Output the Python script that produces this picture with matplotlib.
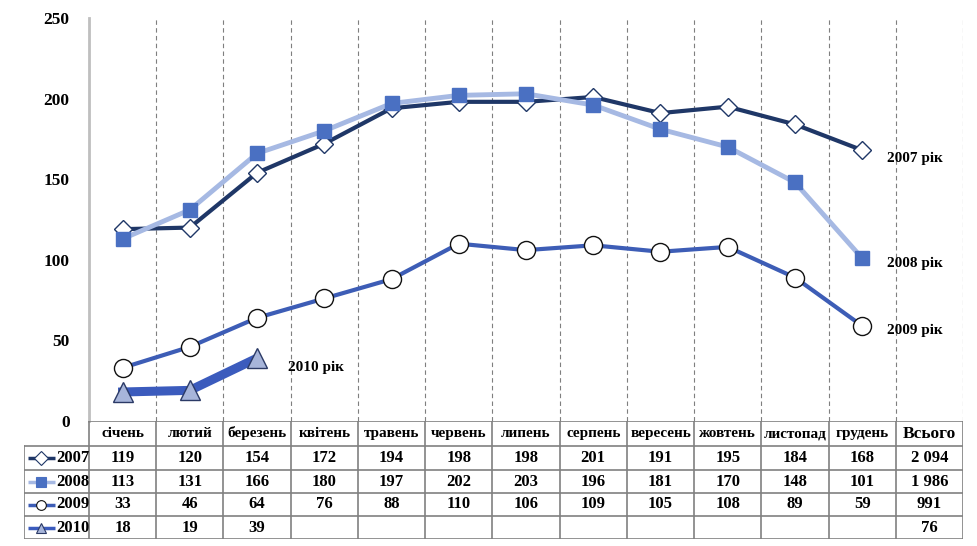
import matplotlib
matplotlib.use('Agg')
import matplotlib.pyplot as plt
import numpy as np

# данi
months = ['січень', 'лютий', 'березень', 'квітень', 'травень', 'червень',
          'липень', 'серпень', 'вересень', 'жовтень', 'листопад', 'грудень']
total_label = 'Всього'
years = ['2007', '2008', '2009', '2010']
v2007 = [119, 120, 154, 172, 194, 198, 198, 201, 191, 195, 184, 168]
v2008 = [113, 131, 166, 180, 197, 202, 203, 196, 181, 170, 148, 101]
v2009 = [33, 46, 64, 76, 88, 110, 106, 109, 105, 108, 89, 59]
v2010 = [18, 19, 39]
totals = ['2 094', '1 986', '991', '76']

plt.rcParams['font.family'] = ['Liberation Serif', 'DejaVu Serif']
plt.rcParams['font.weight'] = 'bold'

W, H = 977, 546
fig = plt.figure(figsize=(W / 100, H / 100), dpi=100)

x0, x1 = 89, 963      # plot area (px)
ytop, ybot = 18, 421
ax = fig.add_axes([x0 / W, 1 - ybot / H, (x1 - x0) / W, (ybot - ytop) / H])

styles = [
    dict(color='#1f3767', lw=3, marker='D', ms=9, mfc='white', mec='#1f3767', mew=1),
    dict(color='#a6b9e3', lw=3.5, marker='s', ms=10, mfc='#4a70c2', mec='#4a70c2'),
    dict(color='#3d5db6', lw=3, marker='o', ms=13, mfc='white', mec='#111111', mew=1),
    dict(color='#3b5bbd', lw=6.5, marker='^', ms=15, mfc='#a7b5da', mec='#2b3a66', mew=1),
]
series = [v2007, v2008, v2009, v2010]

for vals, st in zip(series, styles):
    ax.plot(np.arange(len(vals)), vals, zorder=3, **st)

ax.set_xlim(-0.5, 12.5)
ax.set_ylim(0, 250)
ax.set_yticks([0, 50, 100, 150, 200, 250])
ax.set_xticks([])
ax.tick_params(axis='y', length=0, pad=14, labelsize=12.5)
for lab in ax.get_yticklabels():
    lab.set_fontweight('bold')
for s in ['top', 'right', 'bottom']:
    ax.spines[s].set_visible(False)
ax.spines['left'].set_color('#bfbfbf')
ax.spines['left'].set_linewidth(2)
for xv in np.arange(0.5, 13, 1):
    ax.axvline(xv, color='#7f7f7f', lw=0.8, ls=(0, (4, 3)), zorder=1)

# підписи серій
ax.text(11.37, 163, '2007 рік', fontsize=11, fontweight='bold', va='center')
ax.text(11.37, 98, '2008 рік', fontsize=11, fontweight='bold', va='center')
ax.text(11.37, 56, '2009 рік', fontsize=11, fontweight='bold', va='center')
ax.text(2.46, 33.5, '2010 рік', fontsize=11, fontweight='bold', va='center')

# таблиця даних
colw = (x1 - x0) / 13
tl = 24
tb = 539
tax = fig.add_axes([tl / W, 1 - tb / H, (x1 - tl) / W, (tb - ybot) / H])
tax.set_xlim(-0.5 - (x0 - tl) / colw, 12.5)
row_h = [25, 24, 23, 23, 23]
edges = np.concatenate([[0], np.cumsum(row_h)])
tax.set_ylim(edges[-1], 0)
tax.axis('off')
gc = '#808080'
xl = -0.5 - (x0 - tl) / colw

# горизонтальні лінії
tax.plot([-0.5, 12.5], [0, 0], color=gc, lw=1.2)
for e in edges[1:]:
    tax.plot([xl, 12.5], [e, e], color=gc, lw=1.2)
# вертикальні лінії
for xv in np.arange(-0.5, 13, 1):
    tax.plot([xv, xv], [0, edges[-1]], color=gc, lw=1.2)
tax.plot([xl, xl], [edges[1], edges[-1]], color=gc, lw=1.2)

cy = (edges[:-1] + edges[1:]) / 2
for i, m in enumerate(months):
    tax.text(i, cy[0], m, ha='center', va='center', fontsize=11, fontweight='bold')
tax.text(12, cy[0] + 1, total_label, ha='center', va='center', fontsize=12.5, fontweight='bold')

for r, (vals, yr, st) in enumerate(zip(series, years, styles)):
    y = cy[r + 1]
    for i, v in enumerate(vals):
        tax.text(i, y, str(v), ha='center', va='center', fontsize=12, fontweight='bold')
    tax.text(12, y, totals[r], ha='center', va='center', fontsize=12, fontweight='bold')
    # ключ легенди
    kx = xl + 0.06
    tax.plot([kx, kx + 0.40], [y, y], color=st['color'], lw=2.5, solid_capstyle='butt')
    tax.plot([kx + 0.20], [y], marker=st['marker'], ms=7, mfc=st['mfc'],
             mec=st['mec'], mew=0.8, ls='none')
    tax.text(kx + 0.42, y, yr, ha='left', va='center', fontsize=12, fontweight='bold')

fig.savefig('out.png', dpi=100)
